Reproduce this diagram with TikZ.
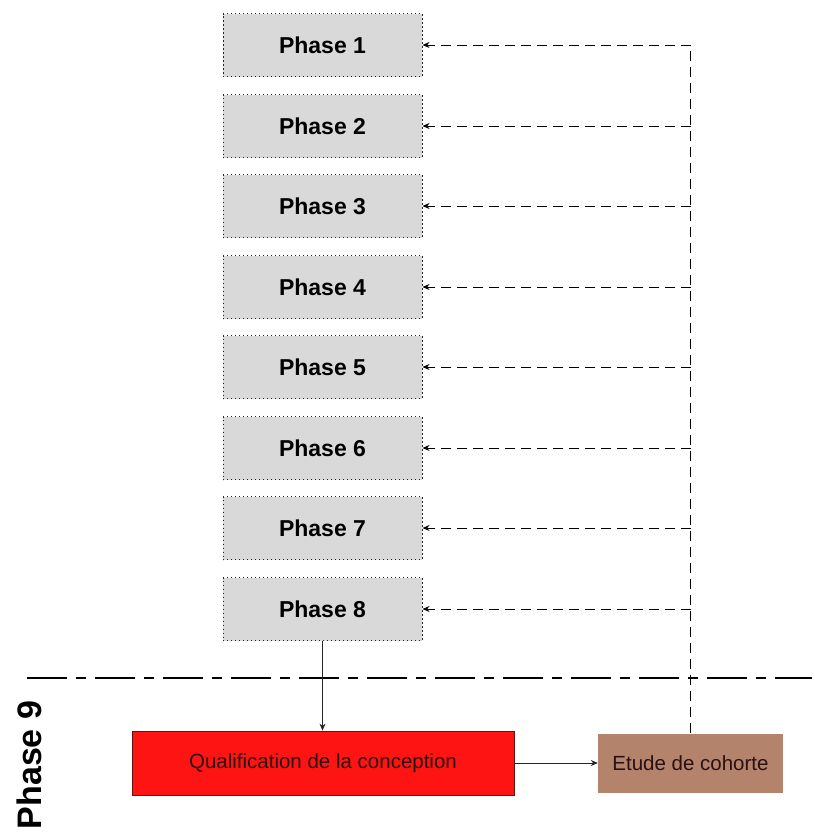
\documentclass[tikz,border=0pt]{standalone}
\usepackage{fontspec}
\setmainfont{Liberation Sans}
\usetikzlibrary{arrows.meta}
\definecolor{boxgray}{HTML}{D9D9D9}
\definecolor{qred}{HTML}{FF1414}
\definecolor{qredborder}{HTML}{6B1010}
\definecolor{cohort}{HTML}{B3846B}
\definecolor{txtdark}{HTML}{2A1010}
\begin{document}
\begin{tikzpicture}[x=1pt,y=-1pt,
  phasebox/.style={draw=black!85, dash pattern=on 1.3pt off 2.7pt, line width=1pt, fill=boxgray,
    minimum width=199pt, minimum height=63pt, inner sep=0pt,
    font=\fontsize{23}{26}\selectfont\bfseries},
  feedback/.style={dash pattern=on 10pt off 6pt, line width=0.9pt, -{Stealth[length=7pt,width=6pt]}},
  flow/.style={line width=0.8pt, black!85, -{Stealth[length=7pt,width=6pt]}},
  sepline/.style={line width=1.1pt, dash pattern=on 40pt off 9pt on 10pt off 9pt}]
\useasboundingbox (0,0) rectangle (814,838);
\foreach \i/\y in {1/45,2/126,3/206,4/287,5/367,6/448,7/528,8/609}{
  \node[phasebox] (p\i) at (322.5,\y) {Phase \i};
}
\node[draw=qredborder, line width=0.8pt, fill=qred, minimum width=382pt, minimum height=64pt, inner sep=0pt,
  text=txtdark, font=\fontsize{20.5}{24}\selectfont] (qual) at (323,763) {Qualification de la conception};
\node[fill=cohort, minimum width=185pt, minimum height=59pt, inner sep=0pt,
  text=txtdark, font=\fontsize{20.5}{24}\selectfont] (etude) at (690.5,763) {Etude de cohorte};
\node[rotate=90, font=\fontsize{34}{38}\selectfont\bfseries] (ph9) at (29,765) {Phase 9};
\coordinate (sepL) at (27,678);
\coordinate (sepR) at (812,678);
\draw[sepline] (sepL) -- (sepR);
\draw[flow] (p8.south) -- (p8.south |- qual.north);
\draw[flow] (qual.east) -- (qual.east -| etude.west);
\draw[dash pattern=on 10pt off 6pt, line width=0.9pt] (etude.north) -- (etude.north |- p1.east);
\foreach \i in {1,...,8}{
  \draw[feedback] (etude.north |- p\i.east) -- (p\i.east);
}
\end{tikzpicture}
\end{document}
